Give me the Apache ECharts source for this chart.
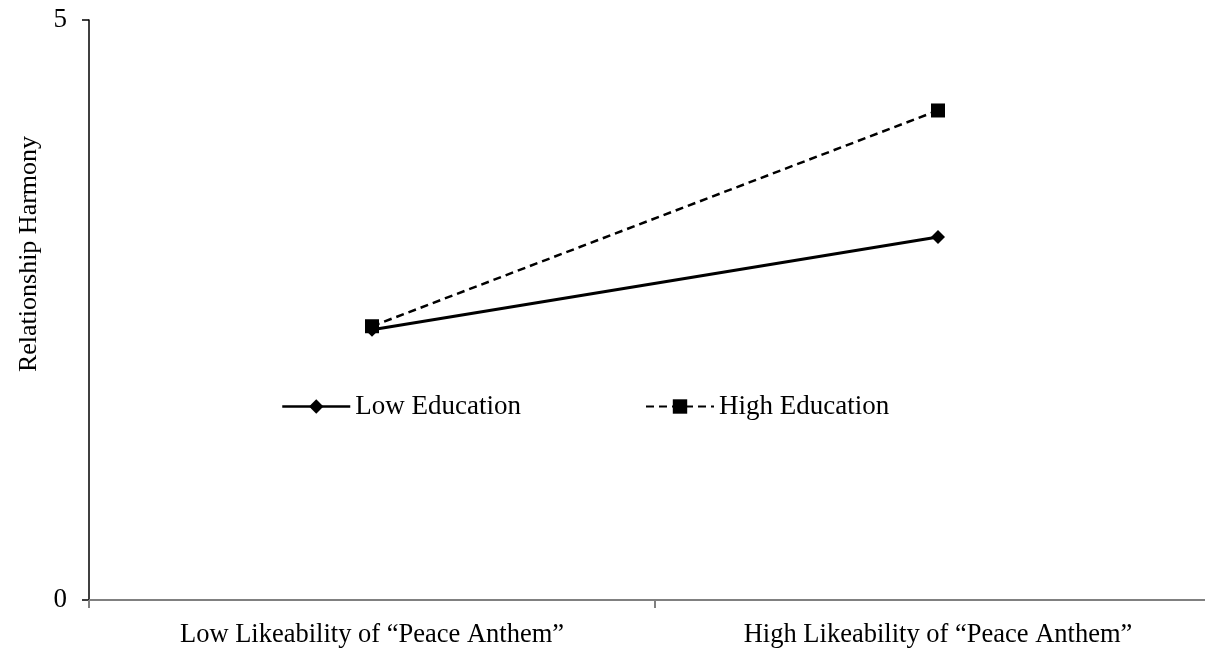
<!DOCTYPE html>
<html>
<head>
<meta charset="utf-8">
<script src="https://cdn.jsdelivr.net/npm/echarts@6/dist/echarts.min.js"></script>
<style>html,body{margin:0;padding:0;background:#fff}#c{width:1205px;height:648px}</style>
</head>
<body>
<div id="c"></div>
<script>
const categories = ['Low Likeability of \u201cPeace Anthem\u201d', 'High Likeability of \u201cPeace Anthem\u201d'];
const lowEducation = [2.33, 3.13];
const highEducation = [2.36, 4.22];
const yMin = 0, yMax = 5;

const font = '"Liberation Serif", "Times New Roman", serif';
const chart = echarts.init(document.getElementById('c'));
chart.setOption({
  animation: false,
  backgroundColor: '#fff',
  grid: { left: 89, width: 1132, top: 20, height: 580, outerBoundsMode: 'none', containLabel: false },
  legend: [
    { data: ['Low Education'], left: 276, top: 388, itemWidth: 68, itemHeight: 18,
      lineStyle: { width: 2.5 },
      textStyle: { fontFamily: font, fontSize: 27, color: '#000' }, itemGap: 6 },
    { data: ['High Education'], left: 640, top: 388, itemWidth: 68, itemHeight: 18,
      lineStyle: { width: 2 },
      textStyle: { fontFamily: font, fontSize: 27, color: '#000' } }
  ],
  xAxis: {
    type: 'category', data: categories, boundaryGap: true,
    axisLine: { lineStyle: { color: '#808080', width: 2 } },
    axisTick: { show: true, interval: 0, length: 8, lineStyle: { color: '#808080', width: 2 } },
    axisLabel: { fontFamily: font, fontSize: 26.5, color: '#000', margin: 22 }
  },
  yAxis: {
    type: 'value', min: yMin, max: yMax, interval: 5,
    name: 'Relationship Harmony', nameLocation: 'middle', nameGap: 42,
    nameTextStyle: { fontFamily: font, fontSize: 26, color: '#000', padding: [0, 0, 0, 112] },
    axisLine: { show: true, lineStyle: { color: '#000', width: 1.5 } },
    axisTick: { show: true, length: 7, lineStyle: { color: '#000', width: 1.5 } },
    axisLabel: { fontFamily: font, fontSize: 27, color: '#000', margin: 22 },
    splitLine: { show: false }
  },
  series: [
    { name: 'Low Education', type: 'line', data: lowEducation,
      symbol: 'diamond', symbolSize: 14,
      lineStyle: { color: '#000', width: 3 }, itemStyle: { color: '#000' } },
    { name: 'High Education', type: 'line', data: highEducation,
      symbol: 'rect', symbolSize: 14,
      lineStyle: { color: '#000', width: 2.5, type: [8, 5] }, itemStyle: { color: '#000' } }
  ]
});
</script>
</body>
</html>
